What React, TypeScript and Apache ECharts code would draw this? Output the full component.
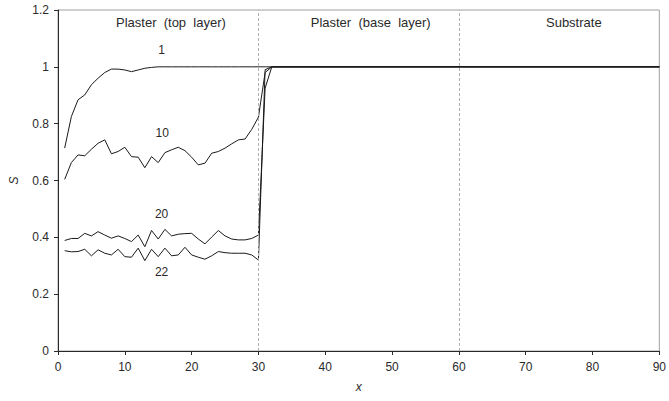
import React, { useEffect, useRef } from "react";
import * as echarts from "echarts";

const X_TOP = [1, 2, 3, 4, 5, 6, 7, 8, 9, 10, 11, 12, 13, 14, 15, 16, 17, 18, 19, 20, 21, 22, 23, 24, 25, 26, 27, 28, 29, 30];
const X_TAIL = [31, 32, 90];

const S1 = [0.714, 0.825, 0.884, 0.901, 0.937, 0.96, 0.98, 0.992, 0.992, 0.989, 0.983, 0.989, 0.995, 0.998, 1, 1, 1, 1, 1, 1, 1, 1, 1, 1, 1, 1, 1, 1, 1, 1];
const S1_TAIL = [1, 1, 1];

const S10 = [0.604, 0.663, 0.69, 0.687, 0.71, 0.731, 0.743, 0.694, 0.702, 0.717, 0.684, 0.682, 0.645, 0.684, 0.663, 0.698, 0.708, 0.717, 0.705, 0.682, 0.655, 0.661, 0.696, 0.702, 0.714, 0.729, 0.743, 0.746, 0.78, 0.823];
const S10_TAIL = [0.98, 1, 1];

const S20 = [0.389, 0.396, 0.396, 0.414, 0.405, 0.42, 0.408, 0.397, 0.405, 0.396, 0.385, 0.408, 0.367, 0.424, 0.394, 0.428, 0.405, 0.411, 0.413, 0.414, 0.394, 0.377, 0.401, 0.424, 0.405, 0.394, 0.391, 0.391, 0.396, 0.408];
const S20_TAIL = [0.925, 1, 1];

const S22 = [0.353, 0.349, 0.35, 0.358, 0.335, 0.356, 0.344, 0.338, 0.358, 0.332, 0.33, 0.362, 0.318, 0.358, 0.332, 0.362, 0.335, 0.338, 0.365, 0.338, 0.33, 0.323, 0.335, 0.35, 0.346, 0.344, 0.344, 0.344, 0.338, 0.32];
const S22_TAIL = [0.99, 1, 1];

const CURVE_NAMES = ["1", "10", "20", "22"];
const CURVE_LABELS: [number, number, string][] = [
  [15.5, 1.06, "1"],
  [15.6, 0.767, "10"],
  [15.5, 0.482, "20"],
  [15.5, 0.279, "22"],
];
const REGION_LABELS: [number, number, string][] = [
  [16.9, 1.155, "Plaster\u00a0 (top\u00a0 layer)"],
  [46.8, 1.155, "Plaster\u00a0 (base\u00a0 layer)"],
  [77.2, 1.155, "Substrate"],
];
const LAYER_BOUNDS = [30, 60];
const Y_TICKS = [0, 0.2, 0.4, 0.6, 0.8, 1, 1.2];

const FONT = "Liberation Sans, Arial, sans-serif";
const INK = "#2a2a2a";

function pairs(xa: number[], ya: number[]) {
  return xa.map((x, i) => [x, ya[i]]);
}

export default function App() {
  const ref = useRef<HTMLDivElement>(null);
  useEffect(() => {
    if (!ref.current) return;
    const chart = echarts.init(ref.current, undefined, { renderer: "svg" });
    const curves = [
      [...pairs(X_TOP, S1), ...pairs(X_TAIL, S1_TAIL)],
      [...pairs(X_TOP, S10), ...pairs(X_TAIL, S10_TAIL)],
      [...pairs(X_TOP, S20), ...pairs(X_TAIL, S20_TAIL)],
      [...pairs(X_TOP, S22), ...pairs(X_TAIL, S22_TAIL)],
    ];
    const series: any[] = curves.map((d, i) => ({
      name: CURVE_NAMES[i],
      type: "line",
      data: d,
      symbol: "none",
      lineStyle: { color: "#1a1a1a", width: 1 },
      z: 3,
    }));
    series.push({
      type: "line",
      data: [],
      markLine: {
        silent: true,
        symbol: "none",
        label: { show: false },
        lineStyle: { color: "#b0b0b0", type: [3, 2], width: 1 },
        data: LAYER_BOUNDS.map((v) => ({ xAxis: v })),
      },
    });

    chart.setOption({
      animation: false,
      backgroundColor: "#ffffff",
      grid: {
        left: 53,
        right: 7,
        top: 10,
        bottom: 50,
        show: true,
        borderColor: "#a0a0a0",
        borderWidth: 1,
      },
      xAxis: {
        type: "value",
        min: 0,
        max: 90,
        interval: 10,
        name: "x",
        nameLocation: "middle",
        nameGap: 30,
        nameTextStyle: { fontStyle: "italic", color: INK, fontSize: 12, fontFamily: FONT },
        axisLine: { show: true, lineStyle: { color: INK, width: 1 } },
        axisTick: { show: true, length: 4, lineStyle: { color: INK } },
        axisLabel: { color: INK, fontSize: 12, fontFamily: FONT, margin: 10 },
        splitLine: { show: false },
      },
      yAxis: {
        type: "value",
        min: 0,
        max: 1.2,
        interval: 0.2,
        name: "S",
        nameLocation: "middle",
        nameGap: 38,
        nameTextStyle: { fontStyle: "italic", color: INK, fontSize: 12, fontFamily: FONT },
        axisLine: { show: true, lineStyle: { color: INK, width: 1 } },
        axisTick: { show: true, length: 4, lineStyle: { color: INK } },
        axisLabel: {
          color: INK,
          fontSize: 12,
          fontFamily: FONT,
          margin: 9,
          formatter: (v: number) => {
            const t = Y_TICKS.find((k) => Math.abs(k - v) < 1e-6);
            return t === undefined ? "" : String(Math.round(t * 10) / 10);
          },
        },
        splitLine: { show: false },
      },
      series,
    });

    const toText = (items: [number, number, string][], size: number) =>
      items.map((t) => {
        const p = chart.convertToPixel({ gridIndex: 0 }, [t[0], t[1]]) as number[];
        return {
          type: "text",
          x: p[0],
          y: p[1],
          silent: true,
          z: 10,
          style: {
            text: t[2],
            fill: INK,
            font: `${size}px ${FONT}`,
            align: "center",
            verticalAlign: "middle",
          },
        };
      });
    chart.setOption({
      graphic: [...toText(CURVE_LABELS, 12), ...toText(REGION_LABELS, 13)],
    });
    return () => chart.dispose();
  }, []);
  return (
    <div
      ref={ref}
      style={{ position: "absolute", left: 0, top: 0, width: 669, height: 401 }}
    />
  );
}
